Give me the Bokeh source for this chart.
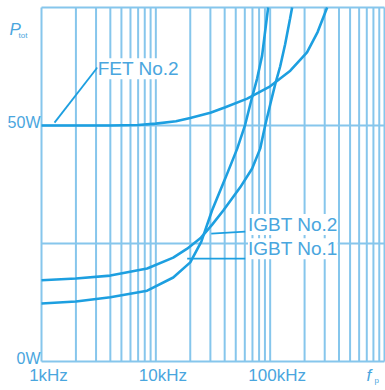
import math
from bokeh.plotting import figure
from bokeh.models import Label, Range1d
from bokeh.embed import file_html
from bokeh.resources import INLINE

# ---- data (frequency in kHz, power in W) ----
fet_f = [1, 2, 4, 7, 10, 15, 20, 30, 40, 63, 100, 150, 210, 260, 315]
fet_p = [50, 50, 50, 50.1, 50.4, 50.9, 51.6, 52.7, 53.8, 55.7, 58.3, 61.6, 65.5, 69.8, 75]

igbt1_f = [1, 2, 4, 8.4, 14.2, 20, 25, 31, 40.5, 51.5, 60.5, 68.3, 77, 85, 96]
igbt1_p = [12.3, 12.7, 13.6, 15.0, 17.8, 21.0, 25.4, 32.0, 38.8, 45.1, 50.2, 55.3, 60.0, 64.8, 75]

igbt2_f = [1, 2, 4, 8.4, 14.2, 18.8, 24.5, 31.1, 38.9, 54.7, 69.6, 81.8, 90.4, 100, 110.6, 122.3, 135.2, 149.5, 155.6]
igbt2_p = [17.2, 17.6, 18.2, 19.7, 22.0, 23.9, 26.1, 29.0, 32.0, 36.9, 40.9, 45.1, 50.0, 54.4, 58.7, 62.5, 67.2, 72.7, 75]

# leader lines (data coords)
fet_lead_f = [1.3, 3.08]
fet_lead_p = [50.6, 62.3]
igbt1_lead_f = [18.8, 60.5]
igbt1_lead_p = [21.8, 21.8]
igbt2_lead_f = [30.5, 60.5]
igbt2_lead_p = [27.1, 27.5]

# ticks / grid
x_tick_vals = [1, 10, 100]
x_tick_text = ["1kHz", "10kHz", "100kHz"]
y_tick_vals = [0, 50]
y_tick_text = ["0W", "50W"]
y_grid_vals = [0, 25, 50, 75]
x_major = [1, 10, 100, 1000]
x_minor = [m * d for d in (1, 10, 100) for m in range(2, 10)]
F_MIN, F_MAX = 1, 1000
P_MIN, P_MAX = 0, 75

GRID = "#86c6ec"
CURVE = "#1d9fe0"
TEXT = "#4aa6de"
FONT = "Liberation Sans"

# ---- layout: the frame fills the canvas; the grid box sits inside it ----
W, H = 385, 390
box_left, box_right, box_top, box_bottom = 41, 384, 7, 361
dec = (box_right - box_left) / math.log10(F_MAX / F_MIN)
x_start = F_MIN * 10 ** (-box_left / dec)
x_end = F_MIN * 10 ** ((W - box_left) / dec)
ppw = (box_bottom - box_top) / (P_MAX - P_MIN)
y_start = P_MIN - (H - box_bottom) / ppw
y_end = P_MAX + box_top / ppw

p = figure(width=W, height=H, x_axis_type="log",
           x_range=Range1d(x_start, x_end), y_range=Range1d(y_start, y_end),
           min_border=0, output_backend="svg", toolbar_location=None)
p.xaxis.visible = False
p.yaxis.visible = False
p.xgrid.grid_line_color = None
p.ygrid.grid_line_color = None
p.background_fill_color = "white"
p.border_fill_color = "white"
p.outline_line_color = None

vx = x_major + x_minor
p.segment(x0=vx, y0=[P_MIN] * len(vx), x1=vx, y1=[P_MAX] * len(vx),
          line_color=GRID, line_width=2)
p.segment(x0=[F_MIN] * len(y_grid_vals), y0=y_grid_vals,
          x1=[F_MAX] * len(y_grid_vals), y1=y_grid_vals,
          line_color=GRID, line_width=2)

for xs, ys in [(fet_f, fet_p), (igbt1_f, igbt1_p), (igbt2_f, igbt2_p)]:
    p.line(xs, ys, line_color=CURVE, line_width=2.6)
for xs, ys in [(fet_lead_f, fet_lead_p), (igbt1_lead_f, igbt1_lead_p), (igbt2_lead_f, igbt2_lead_p)]:
    p.line(xs, ys, line_color=CURVE, line_width=1.8)

def lab(x, y, text, size="18px", align="left", xo=0, yo=0, style="normal", bg=None):
    l = Label(x=x, y=y, text=text, text_font=FONT, text_font_size=size,
              text_color=TEXT, text_align=align, text_baseline="middle",
              x_offset=xo, y_offset=yo, text_font_style=style)
    if bg:
        l.background_fill_color = bg
    p.add_layout(l)

# curve labels
lab(3.1, 62.0, "FET No.2", size="19px", bg="white")
lab(64, 29.0, "IGBT No.2", size="19px", bg="white")
lab(64, 23.9, "IGBT No.1", size="19px", bg="white")

# axis tick labels
for v, t in zip(x_tick_vals, x_tick_text):
    lab(v, P_MIN, t, size="17px", align="center", xo=7, yo=-14)
for v, t in zip(y_tick_vals, y_tick_text):
    lab(F_MIN, v, t, size="16px", align="right", xo=-1, yo=3)

# axis titles
lab(F_MIN, P_MAX, "P", size="17px", align="left", xo=-32, yo=-22, style="italic")
lab(F_MIN, P_MAX, "tot", size="8px", align="left", xo=-23, yo=-28)
lab(F_MAX, P_MIN, "f", size="17px", align="left", xo=-18, yo=-14, style="italic")
lab(F_MAX, P_MIN, "p", size="8px", align="left", xo=-10, yo=-19)

open("out.html", "w").write(file_html(p, INLINE))
